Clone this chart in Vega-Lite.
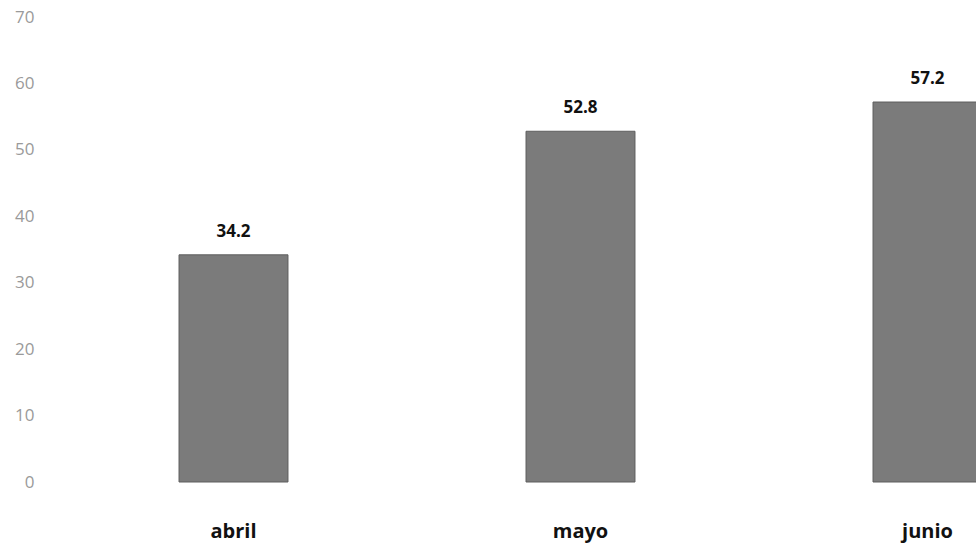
{
  "$schema": "https://vega.github.io/schema/vega-lite/v6.json",
  "autosize": "none",
  "padding": {"left": 58, "top": 17, "right": 0, "bottom": 72},
  "width": 918,
  "height": 465,
  "background": "white",
  "config": {"view": {"stroke": null}},
  "data": {"values": [
    {"mes": "abril", "valor": 34.2},
    {"mes": "mayo", "valor": 52.8},
    {"mes": "junio", "valor": 57.2}
  ]},
  "encoding": {
    "x": {"field": "mes", "type": "nominal", "sort": null,
      "scale": {"range": [2, 1043], "paddingInner": 0.686, "paddingOuter": 0.343},
      "axis": {"title": null, "domain": false, "ticks": false, "labelAngle": 0, "labelFont": "Open Sans", "labelFontSize": 20, "labelFontWeight": "bold", "labelColor": "#111111", "labelPadding": 39}},
    "y": {"field": "valor", "type": "quantitative",
      "scale": {"domain": [0, 70]},
      "axis": {"title": null, "domain": false, "ticks": false, "grid": false, "values": [0,10,20,30,40,50,60,70], "labelFont": "Open Sans", "labelFontSize": 17, "labelColor": "#9a9a9a", "labelPadding": 24}}
  },
  "layer": [
    {"mark": {"type": "bar", "color": "#7b7b7b", "stroke": "#5e5e5e", "strokeWidth": 1}},
    {"mark": {"type": "text", "baseline": "alphabetic", "dy": -18, "font": "Open Sans", "fontSize": 17, "fontWeight": "bold", "color": "#111111"},
      "encoding": {"text": {"field": "valor", "type": "quantitative", "format": ".1f"}}}
  ]
}
